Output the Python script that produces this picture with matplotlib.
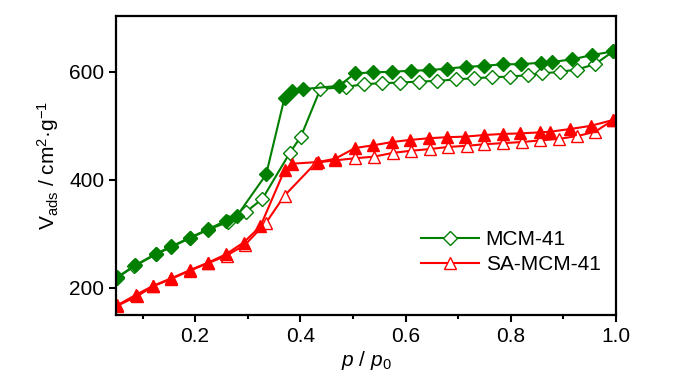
import matplotlib
matplotlib.use("Agg")
import matplotlib.pyplot as plt
from matplotlib.ticker import MultipleLocator

plt.rcParams['font.family'] = ['Liberation Sans Narrow', 'Liberation Sans', 'DejaVu Sans']
plt.rcParams['mathtext.fontset'] = 'custom'
plt.rcParams['mathtext.rm'] = 'Liberation Sans'
plt.rcParams['mathtext.it'] = 'Liberation Sans:italic'

# MCM-41, desorption (filled) and adsorption (open)
mcm_des_p = [0.052, 0.086, 0.125, 0.155, 0.19, 0.225, 0.258, 0.28, 0.335, 0.37, 0.385, 0.406,
             0.473, 0.504, 0.539, 0.574, 0.61, 0.645, 0.679, 0.714, 0.749, 0.785, 0.82, 0.858,
             0.878, 0.916, 0.955, 0.995]
mcm_des_v = [220, 242, 263, 277, 293, 309, 324, 334, 410, 552, 564, 568,
             574, 597, 599, 600, 602, 603, 606, 609, 611, 614, 614, 617,
             618, 623, 631, 638]
mcm_ads_p = [0.052, 0.084, 0.125, 0.155, 0.19, 0.225, 0.262, 0.297, 0.328, 0.38, 0.401, 0.438,
             0.486, 0.521, 0.555, 0.59, 0.625, 0.66, 0.695, 0.73, 0.764, 0.798, 0.833, 0.86,
             0.894, 0.925, 0.96, 0.995]
mcm_ads_v = [219, 240, 262, 276, 292, 308, 322, 341, 365, 450, 480, 568,
             572, 577, 579, 580, 582, 583, 586, 588, 590, 591, 594, 597,
             600, 604, 614, 638]

# SA-MCM-41
sa_des_p = [0.052, 0.087, 0.12, 0.155, 0.19, 0.225, 0.258, 0.292, 0.324, 0.37, 0.385, 0.433,
            0.466, 0.504, 0.539, 0.574, 0.609, 0.644, 0.679, 0.713, 0.749, 0.785, 0.818, 0.856,
            0.874, 0.912, 0.952, 0.995]
sa_des_v = [168, 187, 204, 218, 233, 247, 262, 284, 314, 418, 430, 433,
            439, 459, 464, 470, 474, 477, 479, 480, 483, 485, 486, 488,
            489, 494, 500, 511]
sa_ads_p = [0.052, 0.09, 0.12, 0.155, 0.19, 0.225, 0.26, 0.295, 0.335, 0.37, 0.43, 0.465,
            0.504, 0.54, 0.576, 0.611, 0.646, 0.681, 0.716, 0.75, 0.785, 0.821, 0.856, 0.892,
            0.926, 0.96, 0.995]
sa_ads_v = [167, 185, 203, 217, 232, 246, 260, 280, 321, 371, 432, 436,
            440, 443, 450, 454, 457, 461, 463, 466, 468, 470, 473, 476,
            481, 489, 511]

green = '#007f00'
red = '#ff0000'

fig = plt.figure(figsize=(7, 3.75), dpi=100)
ax = fig.add_axes([0.166, 0.16, 0.714, 0.797])

# open (adsorption) first, filled (desorption) on top
ax.plot(mcm_ads_p, mcm_ads_v, '-D', color=green, mfc='white', mec=green, ms=7, lw=1.5, label='MCM-41')
ax.plot(sa_ads_p, sa_ads_v, '-^', color=red, mfc='white', mec=red, ms=8, lw=1.5, label='SA-MCM-41')
ax.plot(mcm_des_p, mcm_des_v, '-D', color=green, mfc=green, mec=green, ms=7.5, lw=1.5)
ax.plot(sa_des_p, sa_des_v, '-^', color=red, mfc=red, mec=red, ms=8.5, lw=1.5)

ax.set_xlim(0.05, 1.0)
ax.set_ylim(150, 703)
ax.xaxis.set_minor_locator(MultipleLocator(0.1))
ax.yaxis.set_major_locator(MultipleLocator(200))
ax.set_xticks([0.2, 0.4, 0.6, 0.8, 1.0])
ax.set_xticklabels(['0.2', '0.4', '0.6', '0.8', '1.0'])
ax.tick_params(direction='out', width=1.5, labelsize=15)
ax.tick_params(which='major', length=5)
ax.tick_params(which='minor', length=3, width=1.5)
for sp in ax.spines.values():
    sp.set_linewidth(1.6)

ax.set_xlabel(r'$p$ / $p_0$', fontsize=15, labelpad=2)
ax.set_ylabel(r'V$_{\mathrm{ads}}$ / cm$^{2}$·g$^{-1}$', fontsize=15, labelpad=6)

ax.legend(loc='upper left', bbox_to_anchor=(0.61, 0.285), frameon=False, fontsize=15,
          handlelength=2.8, handletextpad=0.3, labelspacing=0.3, borderpad=0, borderaxespad=0)

fig.savefig('out.png', dpi=100)
